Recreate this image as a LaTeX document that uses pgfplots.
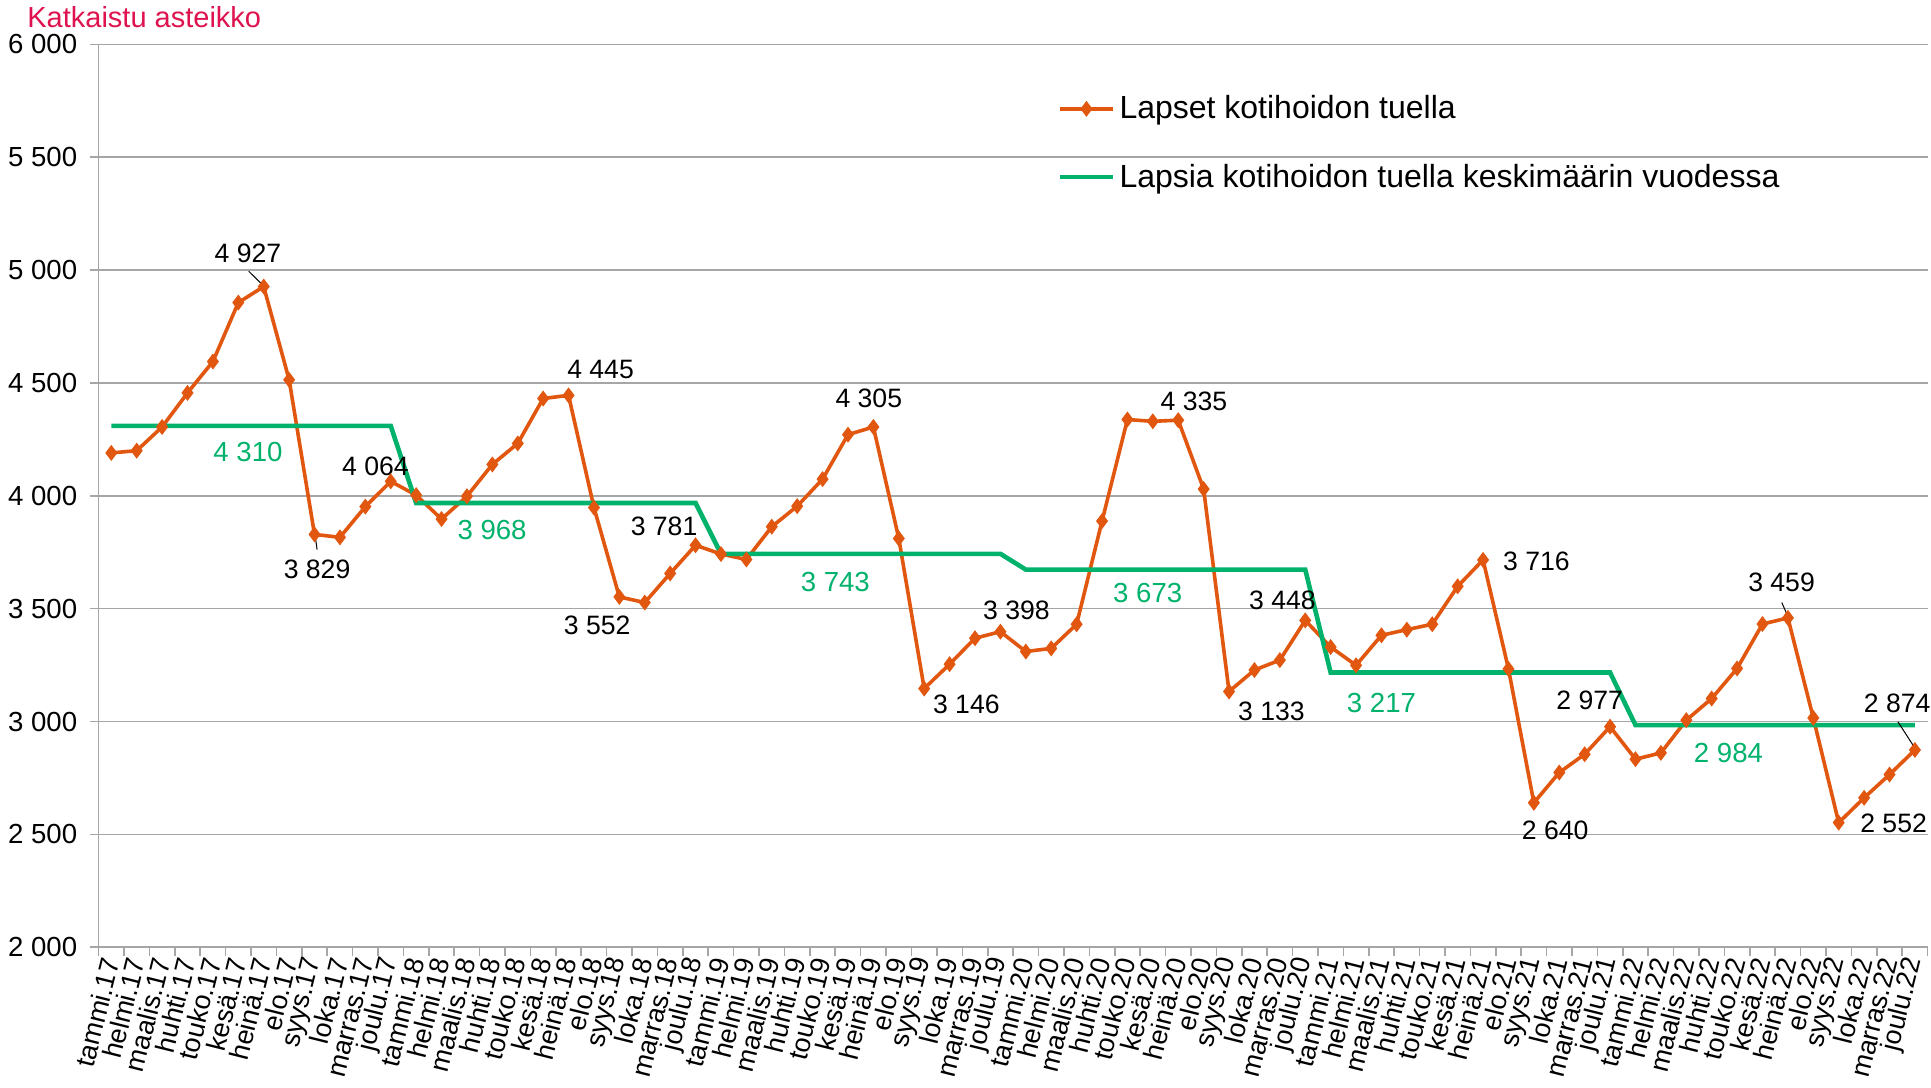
\documentclass[border=0pt]{standalone}
\usepackage{fontspec}
\setmainfont{Liberation Sans}
\usepackage{pgfplots}
\pgfplotsset{compat=1.18}
\usepackage{pgfplotstable}
\definecolor{korange}{RGB}{226,87,15}
\definecolor{kgreen}{RGB}{0,178,107}
\definecolor{ktitle}{RGB}{222,18,78}
\definecolor{kgrid}{RGB}{166,166,166}
\pgfplotstableread{
x kid avg
0 4190 4310
1 4200 4310
2 4305 4310
3 4456 4310
4 4595 4310
5 4856 4310
6 4927 4310
7 4514 4310
8 3829 4310
9 3816 4310
10 3952 4310
11 4064 4310
12 4003 3968
13 3897 3968
14 3998 3968
15 4139 3968
16 4232 3968
17 4431 3968
18 4445 3968
19 3948 3968
20 3552 3968
21 3527 3968
22 3656 3968
23 3781 3968
24 3742 3743
25 3718 3743
26 3863 3743
27 3954 3743
28 4074 3743
29 4271 3743
30 4305 3743
31 3811 3743
32 3146 3743
33 3254 3743
34 3369 3743
35 3398 3743
36 3310 3673
37 3324 3673
38 3431 3673
39 3888 3673
40 4338 3673
41 4330 3673
42 4335 3673
43 4030 3673
44 3133 3673
45 3228 3673
46 3272 3673
47 3448 3673
48 3330 3217
49 3249 3217
50 3382 3217
51 3407 3217
52 3431 3217
53 3599 3217
54 3716 3217
55 3233 3217
56 2640 3217
57 2774 3217
58 2855 3217
59 2977 3217
60 2833 2984
61 2861 2984
62 3006 2984
63 3102 2984
64 3235 2984
65 3432 2984
66 3459 2984
67 3016 2984
68 2552 2984
69 2662 2984
70 2765 2984
71 2874 2984
}\datatable
\begin{document}
\begin{tikzpicture}
\begin{axis}[
  name=ax,
  scale only axis,
  width=914.5pt, height=451.4pt,
  xmin=-0.5, xmax=71.5,
  ymin=2000, ymax=6000,
  axis lines*=left,
  axis line style={kgrid, line width=0.8pt},
  ytick={2000,2500,3000,3500,4000,4500,5000,5500,6000},
  yticklabels={2~000,2~500,3~000,3~500,4~000,4~500,5~000,5~500,6~000},
  ymajorgrids,
  grid style={kgrid, line width=0.8pt},
  tick align=outside,
  major tick length=4.5pt,
  minor tick length=4.5pt,
  tick style={kgrid, line width=0.8pt},
  xtick={0,...,71},
  major x tick style={draw=none},
  minor xtick={-0.5,0.5,...,71.5},
  xticklabels={tammi.17,helmi.17,maalis.17,huhti.17,touko.17,kesä.17,heinä.17,elo.17,syys.17,loka.17,marras.17,joulu.17,
  tammi.18,helmi.18,maalis.18,huhti.18,touko.18,kesä.18,heinä.18,elo.18,syys.18,loka.18,marras.18,joulu.18,
  tammi.19,helmi.19,maalis.19,huhti.19,touko.19,kesä.19,heinä.19,elo.19,syys.19,loka.19,marras.19,joulu.19,
  tammi.20,helmi.20,maalis.20,huhti.20,touko.20,kesä.20,heinä.20,elo.20,syys.20,loka.20,marras.20,joulu.20,
  tammi.21,helmi.21,maalis.21,huhti.21,touko.21,kesä.21,heinä.21,elo.21,syys.21,loka.21,marras.21,joulu.21,
  tammi.22,helmi.22,maalis.22,huhti.22,touko.22,kesä.22,heinä.22,elo.22,syys.22,loka.22,marras.22,joulu.22},
  xticklabel style={font=\fontsize{13.5}{15}\selectfont, rotate=76, anchor=east, inner sep=1pt},
  yticklabel style={font=\fontsize{13.8}{15}\selectfont, inner sep=1pt, xshift=-5pt},
  legend style={at={(rel axis cs:0.524,0.948)}, anchor=north west, draw=none, fill=none,
    font=\fontsize{16}{19}\selectfont, row sep=17pt, inner sep=0pt, cells={anchor=west}},
  legend cell align=left,
  legend image code/.code={\draw[mark repeat=2,mark phase=2,#1] plot coordinates {(0cm,0cm) (0.47cm,0cm) (0.94cm,0cm)};},
  clip=false,
]
\addplot[korange, line width=1.8pt, mark=diamond*, mark size=3.6pt, mark options={fill=korange, draw=korange, line width=0.5pt}] table[x=x, y=kid] {\datatable};
\addlegendentry{Lapset kotihoidon tuella}
\addplot[kgreen, line width=2.3pt, no marks] table[x=x, y=avg] {\datatable};
\addlegendentry{Lapsia kotihoidon tuella keskimäärin vuodessa}

% leader lines
\draw[black, line width=0.5pt] (axis cs:5.41,4995) -- (axis cs:5.95,4935);
\draw[black, line width=0.5pt] (axis cs:8.02,3828) -- (axis cs:8.1,3762);
\draw[black, line width=0.5pt] (axis cs:65.76,3527) -- (axis cs:66.0,3465);
\draw[black, line width=0.5pt] (axis cs:70.33,2999) -- (axis cs:71.0,2882);

% data labels
\begin{scope}[every node/.style={font=\fontsize{13.3}{15}\selectfont, text=black, inner sep=0pt}]
\node at (axis cs:5.38,5074) {4~927};
\node at (axis cs:8.1,3672) {3~829};
\node at (axis cs:10.4,4131) {4~064};
\node at (axis cs:19.26,4559) {4~445};
\node at (axis cs:19.13,3426) {3~552};
\node at (axis cs:21.76,3863) {3~781};
\node at (axis cs:29.82,4431) {4~305};
\node at (axis cs:33.66,3074) {3~146};
\node at (axis cs:35.63,3493) {3~398};
\node at (axis cs:42.62,4420) {4~335};
\node at (axis cs:45.67,3044) {3~133};
\node at (axis cs:46.1,3535) {3~448};
\node at (axis cs:56.1,3708) {3~716};
\node at (axis cs:56.84,2519) {2~640};
\node at (axis cs:58.2,3095) {2~977};
\node at (axis cs:65.75,3615) {3~459};
\node at (axis cs:70.16,2549) {2~552};
\node at (axis cs:70.3,3080) {2~874};
\end{scope}
\begin{scope}[every node/.style={font=\fontsize{13.8}{15}\selectfont, text=kgreen, inner sep=0pt}]
\node at (axis cs:5.38,4195) {4~310};
\node at (axis cs:14.99,3848) {3~968};
\node at (axis cs:28.5,3619) {3~743};
\node at (axis cs:40.8,3571) {3~673};
\node at (axis cs:50.0,3081) {3~217};
\node at (axis cs:63.66,2861) {2~984};
\end{scope}
\end{axis}
\node[anchor=west, inner sep=0pt, text=ktitle, font=\fontsize{14.5}{17}\selectfont] at ([xshift=-35.8pt, yshift=13.6pt]ax.north west) {Katkaistu asteikko};
\pgfresetboundingbox
\path[use as bounding box] ([xshift=-49.3pt, yshift=-70.2pt]ax.south west) rectangle ([xshift=1.7pt, yshift=22.2pt]ax.north east);
\end{tikzpicture}
\end{document}
